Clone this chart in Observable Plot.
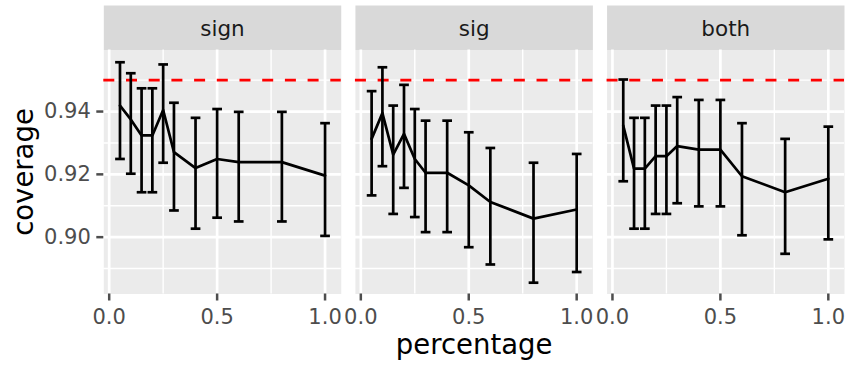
<!DOCTYPE html>
<html><head><meta charset="utf-8">
<script src="https://cdn.jsdelivr.net/npm/d3@7"></script>
<script src="https://cdn.jsdelivr.net/npm/@observablehq/plot@0.6"></script>
<style>html,body{margin:0;padding:0;background:#fff;} svg{display:block;}</style>
</head><body><div id="chart"></div>
<script>
const panels = ["sign", "sig", "both"];
const percentage = [0.05, 0.1, 0.15, 0.2, 0.25, 0.3, 0.4, 0.5, 0.6, 0.8, 1.0];

const signMean = [0.9419, 0.9375, 0.9324, 0.9324, 0.9405, 0.9271, 0.9220, 0.9249, 0.9239, 0.9239, 0.9196];
const signLo   = [0.9249, 0.9202, 0.9143, 0.9143, 0.9237, 0.9085, 0.9027, 0.9062, 0.9050, 0.9050, 0.9004];
const signHi   = [0.9557, 0.9522, 0.9474, 0.9474, 0.9550, 0.9428, 0.9380, 0.9408, 0.9399, 0.9399, 0.9363];

const sigMean = [0.9313, 0.9395, 0.9263, 0.9329, 0.9249, 0.9205, 0.9205, 0.9165, 0.9112, 0.9059, 0.9088];
const sigLo   = [0.9133, 0.9226, 0.9074, 0.9157, 0.9064, 0.9016, 0.9016, 0.8968, 0.8913, 0.8855, 0.8889];
const sigHi   = [0.9465, 0.9541, 0.9419, 0.9485, 0.9408, 0.9371, 0.9371, 0.9334, 0.9284, 0.9237, 0.9265];

const bothMean = [0.9355, 0.9218, 0.9218, 0.9258, 0.9258, 0.9290, 0.9279, 0.9279, 0.9194, 0.9143, 0.9186];
const bothLo   = [0.9178, 0.9027, 0.9027, 0.9074, 0.9074, 0.9108, 0.9098, 0.9098, 0.9006, 0.8947, 0.8993];
const bothHi   = [0.9502, 0.9380, 0.9380, 0.9419, 0.9419, 0.9446, 0.9437, 0.9437, 0.9363, 0.9313, 0.9352];

const target = 0.95;
const yTicks = [0.90, 0.92, 0.94];
const yMinor = [0.89, 0.91, 0.93, 0.95];
const xTicks = [0, 0.5, 1.0];
const xMinor = [0.25, 0.75];

const series = {
  sign: {mean: signMean, lo: signLo, hi: signHi},
  sig: {mean: sigMean, lo: sigLo, hi: sigHi},
  both: {mean: bothMean, lo: bothLo, hi: bothHi}
};
const rows = [];
panels.forEach(p => percentage.forEach((x, i) => rows.push({
  panel: p, percentage: x, coverage: series[p].mean[i], lo: series[p].lo[i], hi: series[p].hi[i]
})));

const capHalf = 0.0225;
const lw = 2.7;
const chart = Plot.plot({
  width: 846, height: 367,
  marginLeft: 103.3, marginRight: 2, marginTop: 49.5, marginBottom: 73.5,
  style: {fontFamily: "DejaVu Sans", background: "white"},
  fx: {domain: panels, paddingInner: 0.0564, paddingOuter: 0, round: false, axis: null, label: null},
  x: {domain: [-0.025, 1.075], axis: null},
  y: {domain: [0.8819, 0.9596], axis: null},
  marks: [
    Plot.frame({fill: "#ebebeb"}),
    Plot.frame({fill: "#d9d9d9", insetTop: -44.5, insetBottom: 244}),
    Plot.ruleX(xMinor, {stroke: "white", strokeWidth: 1.4}),
    Plot.ruleY(yMinor, {stroke: "white", strokeWidth: 1.4}),
    Plot.ruleX(xTicks, {stroke: "white", strokeWidth: 2.7}),
    Plot.ruleY(yTicks, {stroke: "white", strokeWidth: 2.7}),
    Plot.ruleY([target], {stroke: "#ff0000", strokeWidth: 2.8, strokeDasharray: "11,11.7"}),
    Plot.ruleX(rows, {fx: "panel", x: "percentage", y1: "lo", y2: "hi", stroke: "black", strokeWidth: lw}),
    Plot.link(rows, {fx: "panel", x1: d => d.percentage - capHalf, x2: d => d.percentage + capHalf, y1: "hi", y2: "hi", stroke: "black", strokeWidth: lw}),
    Plot.link(rows, {fx: "panel", x1: d => d.percentage - capHalf, x2: d => d.percentage + capHalf, y1: "lo", y2: "lo", stroke: "black", strokeWidth: lw}),
    Plot.line(rows, {fx: "panel", x: "percentage", y: "coverage", stroke: "black", strokeWidth: lw}),
    Plot.axisX({ticks: xTicks, tickFormat: ".1f", tickSize: 7, tickPadding: 8, fontSize: 21, color: "#4d4d4d", strokeWidth: 2.5, label: null}),
    Plot.axisY({ticks: yTicks, tickFormat: ".2f", tickSize: 7, tickPadding: 6, fontSize: 21, color: "#4d4d4d", strokeWidth: 2.5, label: null}),
    Plot.text(panels, {fx: d => d, text: d => d, frameAnchor: "top", lineAnchor: "middle", dy: -20.5, fontSize: 21.5, fill: "#1a1a1a"}),
    Plot.text(["coverage"], {fx: () => "sign", text: d => d, frameAnchor: "left", textAnchor: "middle", lineAnchor: "middle", dx: -80, rotate: -90, fontSize: 27.5, fill: "black"}),
    Plot.text(["percentage"], {fx: () => "sig", text: d => d, frameAnchor: "bottom", textAnchor: "middle", lineAnchor: "middle", dy: 51.5, fontSize: 27.5, fill: "black"})
  ]
});
document.getElementById("chart").appendChild(chart);
</script>
</body></html>
